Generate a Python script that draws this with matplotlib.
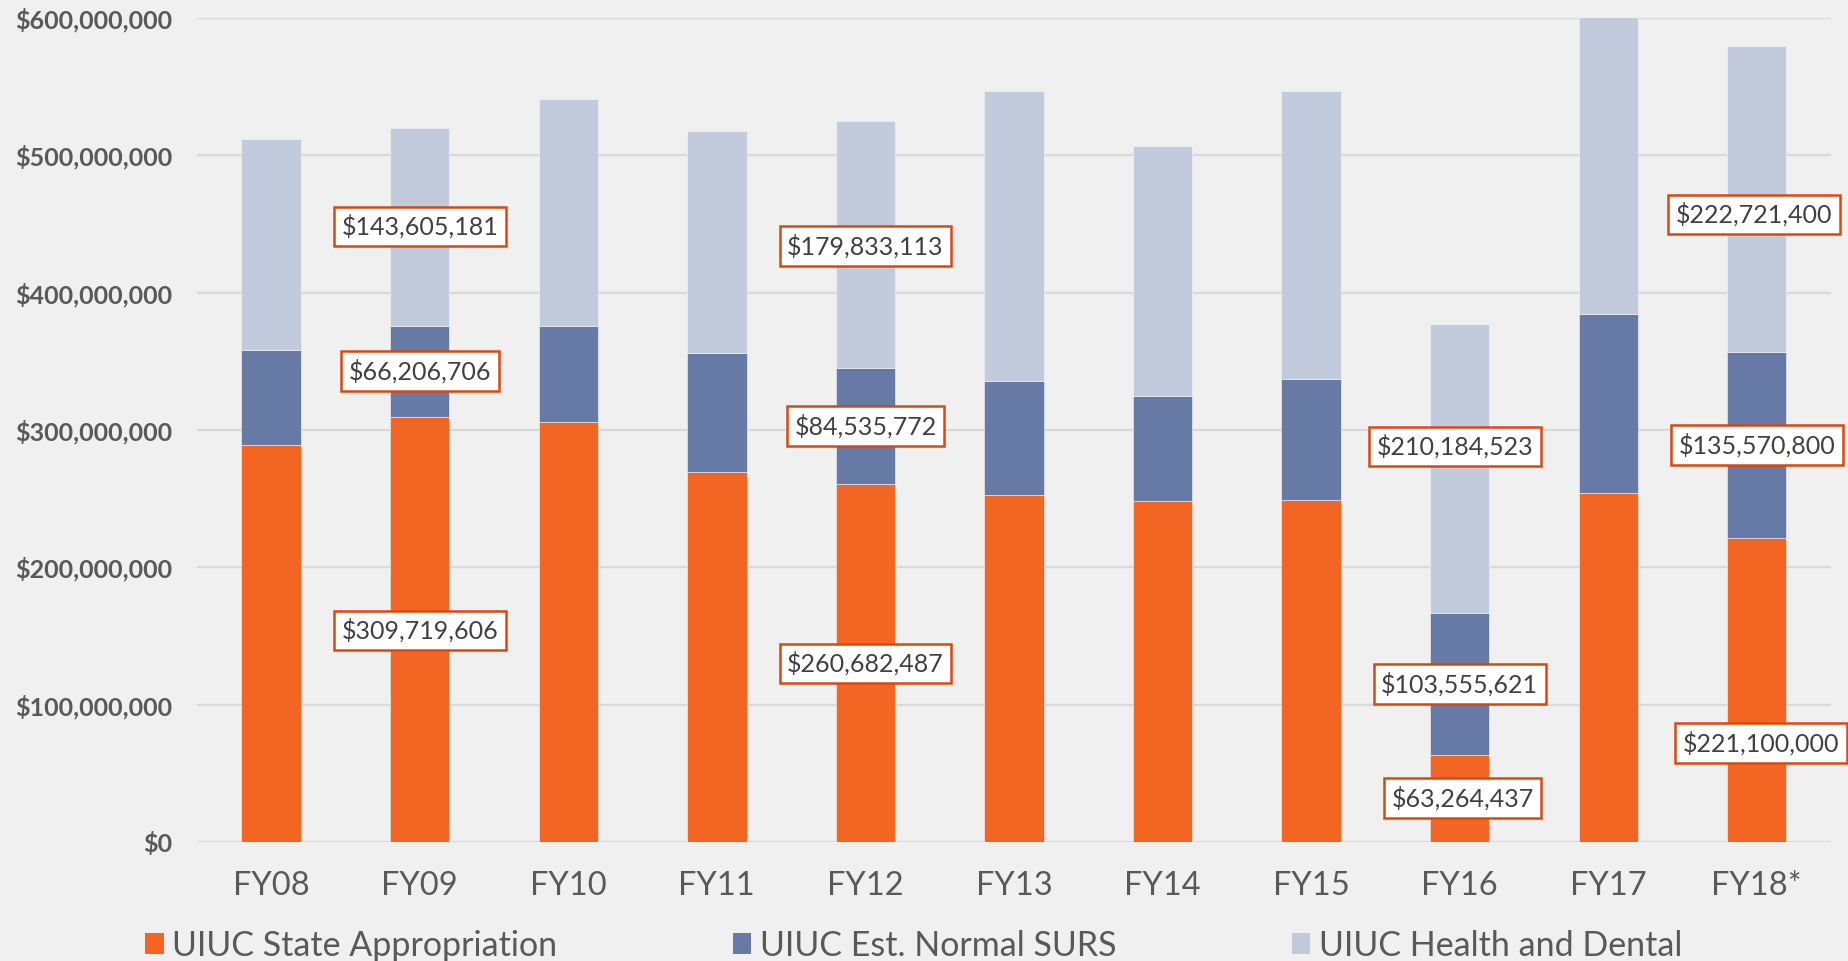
import matplotlib.pyplot as plt
from matplotlib.patches import Patch

years = ['FY08', 'FY09', 'FY10', 'FY11', 'FY12', 'FY13', 'FY14', 'FY15', 'FY16', 'FY17', 'FY18*']
state_approp = [289000000, 309719606, 305500000, 269500000, 260682487, 253000000,
                248000000, 249000000, 63264437, 254000000, 221100000]
surs = [69000000, 66206706, 70500000, 86500000, 84535772, 82600000,
        77000000, 88000000, 103555621, 130500000, 135570800]
health = [154000000, 143605181, 165000000, 161600000, 179833113, 211200000,
          182000000, 210000000, 210184523, 216000000, 222721400]

series_names = ['UIUC State Appropriation', 'UIUC Est. Normal SURS', 'UIUC Health and Dental']
colors = ['#F26522', '#6779A5', '#C2CBDC']

# callouts: (year index, series index, y position of box in $M, x shift)
callouts = [
    (1, 2, 448, 0.0), (1, 1, 343, 0.0), (1, 0, 154, 0.0),
    (4, 2, 434, 0.0), (4, 1, 303, 0.0), (4, 0, 130, 0.0),
    (8, 2, 288, -0.03), (8, 1, 115, 0.0), (8, 0, 32, 0.02),
    (10, 2, 457, -0.02), (10, 1, 289, 0.0), (10, 0, 72, 0.03),
]

plt.rcParams['font.family'] = ['Lato', 'DejaVu Sans']
bg = '#F0F0F0'

fig = plt.figure(figsize=(18.49, 9.61), dpi=100, facecolor=bg)
ax = fig.add_axes([0.1065, 0.1238, 0.8838, 0.8575], facecolor=bg)

x = list(range(len(years)))
all_series = [state_approp, surs, health]
bottom = [0] * len(years)
for vals, c, name in zip(all_series, colors, series_names):
    ax.bar(x, vals, bottom=bottom, width=0.4, color=c, label=name,
           edgecolor='#F6F6F6', linewidth=0.4, zorder=2)
    bottom = [b + v for b, v in zip(bottom, vals)]

ax.set_xlim(-0.5, len(years) - 0.5)
ax.set_ylim(0, 600000000)
ax.set_yticks(range(0, 600000001, 100000000))
ax.set_yticklabels(['${:,.0f}'.format(v) for v in range(0, 600000001, 100000000)],
                   fontsize=18, fontweight='bold', color='#595959')
ax.set_xticks(x)
ax.set_xticklabels(years, fontsize=23.5, color='#595959')
ax.tick_params(axis='y', length=0, pad=18)
ax.tick_params(axis='x', length=0, pad=21)
ax.grid(axis='y', color='#D9D9D9', linewidth=1.6, zorder=0)
ax.set_axisbelow(True)
for s in ax.spines.values():
    s.set_visible(False)

for i, si, ypos, dx in callouts:
    val = all_series[si][i]
    ax.text(i + dx, ypos * 1e6, '${:,.0f}'.format(val), fontsize=18, color='#404040',
            ha='center', va='center', zorder=5, clip_on=False,
            bbox=dict(boxstyle='square,pad=0.3', facecolor='white',
                      edgecolor='#D9480F', linewidth=1.8))

handles = [Patch(facecolor=c, label=n) for c, n in zip(colors, series_names)]
fig.legend(handles=handles, loc='center left', bbox_to_anchor=(145 / 1849, 1 - 945.5 / 961),
           ncol=3, frameon=False, fontsize=24.5, labelcolor='#595959',
           handlelength=0.55, handleheight=0.55, handletextpad=0.25,
           columnspacing=5.15, borderaxespad=0, borderpad=0)

fig.savefig('out.png', dpi=100, facecolor=bg)
